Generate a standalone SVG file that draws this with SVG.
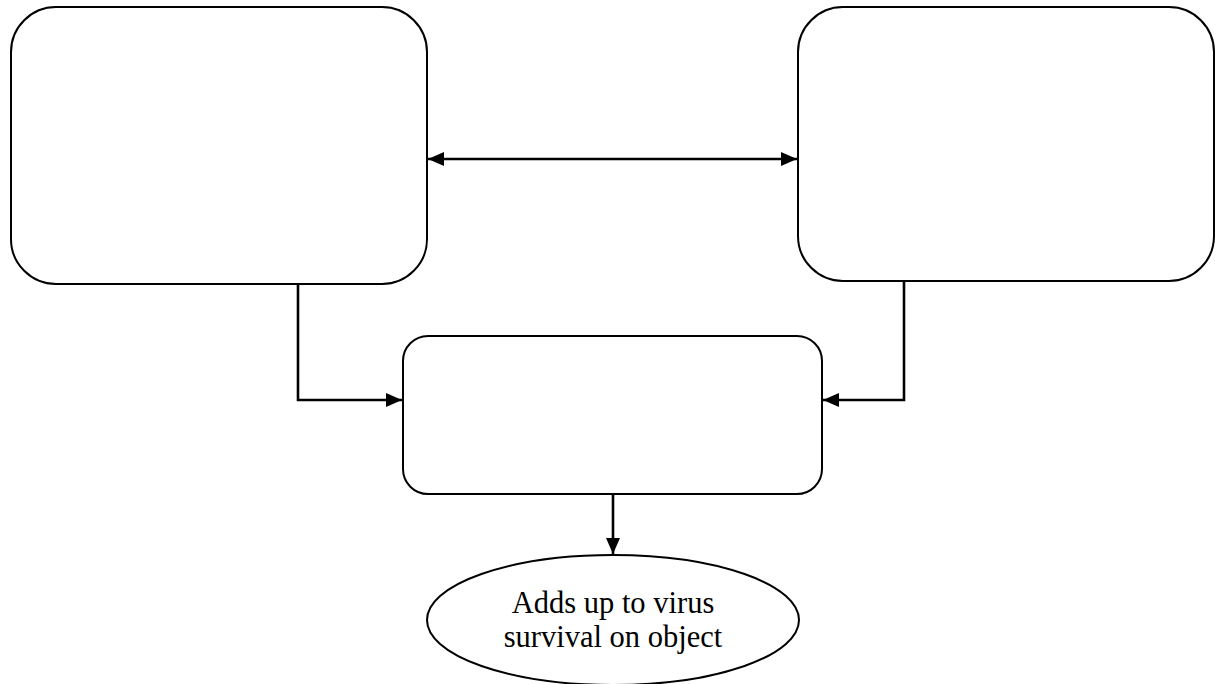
<svg xmlns="http://www.w3.org/2000/svg" width="1215" height="684" viewBox="0 0 1215 684">
  <style>
    .node { fill: #ffffff; stroke: #000000; stroke-width: 2; }
    .conn { fill: none; stroke: #000000; stroke-width: 2.6; }
    .label { font-family: "Liberation Serif", "Times New Roman", serif; font-size: 30.5px; fill: #000000; text-anchor: middle; }
  </style>
  <defs>
    <marker id="arrow" viewBox="0 0 16 14" refX="16" refY="7" markerWidth="16" markerHeight="14" markerUnits="userSpaceOnUse" orient="auto-start-reverse">
      <path d="M0,0 L16,7 L0,14 z" fill="#000000"/>
    </marker>
  </defs>
  <rect width="1215" height="684" fill="#ffffff"/>
  <g id="node-left">
    <rect class="node" x="11" y="7" width="416" height="277" rx="45" ry="45"/>
  </g>
  <g id="node-right">
    <rect class="node" x="798" y="7" width="416" height="274" rx="45" ry="45"/>
  </g>
  <g id="node-middle">
    <rect class="node" x="403" y="336" width="419" height="158" rx="25" ry="25"/>
  </g>
  <g id="node-result">
    <ellipse class="node" cx="613" cy="620" rx="186" ry="65"/>
    <text class="label" x="613" y="613">Adds up to virus</text>
    <text class="label" x="613" y="647">survival on object</text>
  </g>
  <g id="connectors">
    <line class="conn" x1="428" y1="159" x2="797" y2="159" marker-start="url(#arrow)" marker-end="url(#arrow)"/>
    <polyline class="conn" points="298,284 298,400 402,400" marker-end="url(#arrow)"/>
    <polyline class="conn" points="904,281 904,400 823,400" marker-end="url(#arrow)"/>
    <line class="conn" x1="613" y1="494" x2="613" y2="554" marker-end="url(#arrow)"/>
  </g>
</svg>
